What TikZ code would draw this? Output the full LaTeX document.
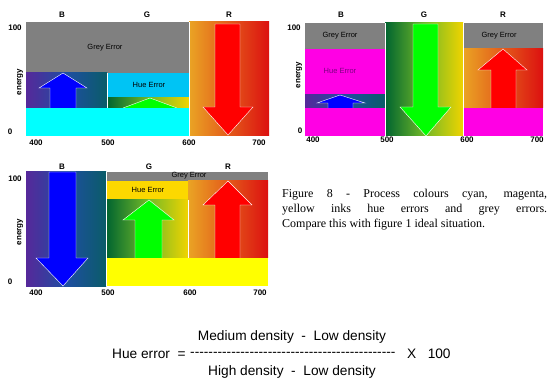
\documentclass[tikz,border=0pt]{standalone}
\usepackage{fontspec}
\setmainfont{Liberation Serif}
\newfontfamily\arial{Liberation Sans}[Ligatures=TeXOff]
\definecolor{greyerr}{HTML}{808080}
\definecolor{cyanerr}{HTML}{00C4F4}
\definecolor{cyanink}{HTML}{00FFFF}
\definecolor{magerr}{HTML}{FF00E4}
\definecolor{golderr}{HTML}{FCD800}
\definecolor{yelink}{HTML}{FFFF00}
\definecolor{bviolet}{HTML}{56289A}
\definecolor{bblue}{HTML}{1E4EA2}
\definecolor{bteal}{HTML}{0A5C68}
\definecolor{gdark}{HTML}{006430}
\definecolor{gmid}{HTML}{70B828}
\definecolor{gyel}{HTML}{F0D400}
\definecolor{rorange}{HTML}{EAA424}
\definecolor{rred}{HTML}{DC1010}
\definecolor{huetext}{HTML}{7A0080}
\definecolor{arrblue}{HTML}{0000FF}
\definecolor{arrgreen}{HTML}{00FF00}
\definecolor{arrred}{HTML}{FF0000}
\tikzset{
  lbl/.style={font=\arial\bfseries\fontsize{8}{9}\selectfont, inner sep=0pt},
  err/.style={font=\arial\fontsize{7.5}{9}\selectfont, inner sep=0pt},
  eq/.style={font=\arial\fontsize{13.7}{16}\selectfont, inner sep=0pt},
  arr/.style={draw=white, line width=0.4pt},
  sep/.style={white, line width=0.8pt},
  bshade/.style={left color=bviolet, right color=bteal, middle color=bblue},
  gshade/.style={left color=gdark, right color=gyel, middle color=gmid},
  rshade/.style={left color=rorange, right color=rred}
}
\begin{document}
\begin{tikzpicture}[x=1pt,y=-1pt]
\useasboundingbox (0,0) rectangle (557,390);
\fill[white] (0,0) rectangle (557,390);
% top left: cyan ink
\shade[rshade] (189,22) rectangle (269,136);
\fill[greyerr] (26,22) rectangle (189,73);
\shade[bshade] (26,73) rectangle (107,108);
\fill[cyanerr] (107,73) rectangle (189,98);
\shade[gshade] (107,98) rectangle (189,108);
\fill[arrblue,arr] (50,108) -- (50,88) -- (39,88) -- (63,73) -- (87,88) -- (76,88) -- (76,108);
\fill[arrgreen,arr] (123,108) -- (150,98) -- (177,108);
\fill[cyanink] (26,108) rectangle (189,136);
\fill[arrred,arr] (215,24) -- (240,24) -- (240,107) -- (253,107) -- (228,135) -- (203,107) -- (215,107) -- cycle;
\draw[sep] (189,22) -- (189,136) (107,73) -- (107,108);
\node[err] (grey1) at (105,48) {Grey Error};
\node[err] (hue1) at (149,85) {Hue Error};
\node[lbl] (b1) at (62,15) {B};
\node[lbl] (g1) at (147,15) {G};
\node[lbl] (r1) at (229,15) {R};
\node[lbl] (top1) at (15,28) {100};
\node[lbl] (bot1) at (10,132) {0};
\node[lbl,rotate=90] (en1) at (20,82) {energy};
\node[lbl] (x400a) at (36,143) {400};
\node[lbl] (x500a) at (108,143) {500};
\node[lbl] (x600a) at (189,143) {600};
\node[lbl] (x700a) at (259,143) {700};
% top right: magenta ink
\fill[greyerr] (305,23) rectangle (385,49);
\fill[magerr] (305,49) rectangle (385,95);
\shade[bshade] (305,95) rectangle (385,108);
\fill[arrblue,arr] (328,108) -- (328,103) -- (317,103) -- (340,95) -- (365,103) -- (353,103) -- (353,108);
\fill[magerr] (305,108) rectangle (385,136);
\shade[gshade] (385,23) rectangle (463,136);
\fill[arrgreen,arr] (413,24) -- (438,24) -- (438,107) -- (451,107) -- (426,136) -- (400,107) -- (413,107) -- cycle;
\fill[greyerr] (463,23) rectangle (543,49);
\shade[rshade] (463,49) rectangle (543,108);
\fill[arrred,arr] (491,108) -- (491,70) -- (478,70) -- (503,49) -- (527,70) -- (516,70) -- (516,108);
\fill[magerr] (463,108) rectangle (543,136);
\draw[sep] (385,23) -- (385,136) (463,23) -- (463,136);
\node[err] (grey2a) at (340,36) {Grey Error};
\node[err,text=huetext] (hue2) at (340,71) {Hue Error};
\node[err] (grey2b) at (499,36) {Grey Error};
\node[lbl] (b2) at (341,15) {B};
\node[lbl] (g2) at (424,15) {G};
\node[lbl] (r2) at (503,15) {R};
\node[lbl] (top2) at (294,28) {100};
\node[lbl] (bot2) at (300,131) {0};
\node[lbl,rotate=90] (en2) at (299,75) {energy};
\node[lbl] (x400b) at (313,140) {400};
\node[lbl] (x500b) at (387,140) {500};
\node[lbl] (x600b) at (467,140) {600};
\node[lbl] (x700b) at (537,140) {700};
% bottom left: yellow ink
\shade[bshade] (26,172) rectangle (106,286);
\fill[arrblue,arr] (49,172) -- (76,172) -- (76,258) -- (88,258) -- (63,286) -- (36,258) -- (49,258) -- cycle;
\fill[greyerr] (106,172) rectangle (268,181);
\fill[golderr] (106,181) rectangle (188,200);
\shade[gshade] (106,200) rectangle (188,258);
\shade[rshade] (188,181) rectangle (268,258);
\fill[arrgreen,arr] (135,258) -- (135,220) -- (123,220) -- (149,200) -- (174,220) -- (162,220) -- (162,258);
\fill[arrred,arr] (215,258) -- (215,205) -- (203,205) -- (228,181) -- (252,205) -- (240,205) -- (240,258);
\fill[yelink] (106,258) rectangle (268,286);
\draw[sep] (106,172) -- (106,286) (188,200) -- (188,258);
\node[err] (grey3) at (189,176) {Grey Error};
\node[err] (hue3) at (148,190) {Hue Error};
\node[lbl] (b3) at (62,167) {B};
\node[lbl] (g3) at (149,167) {G};
\node[lbl] (r3) at (228,167) {R};
\node[lbl] (top3) at (15,179) {100};
\node[lbl] (bot3) at (10,282) {0};
\node[lbl,rotate=90] (en3) at (20,232) {energy};
\node[lbl] (x400c) at (36,293) {400};
\node[lbl] (x500c) at (108,293) {500};
\node[lbl] (x600c) at (190,293) {600};
\node[lbl] (x700c) at (260,293) {700};
% caption
\node[anchor=north west, inner sep=0pt, text width=265pt, align=justify,
  font=\fontsize{12}{15}\selectfont] (caption) at (282,189)
  {Figure 8 - Process colours cyan, magenta,\linebreak yellow inks hue errors and grey errors.\linebreak Compare this with figure 1 ideal situation.};
% formula
\node[eq] (num) at (292,337) {Medium density~~-~~Low density};
\node[eq] (den) at (292,372) {High density~~-~~Low density};
\node[eq, anchor=west] (hue) at (112,354) {Hue error~~=};
\node[eq, anchor=west] (bar) at (190,354) {---------------------------------------------};
\node[eq, anchor=west] (times) at (407,354) {X~~~100};
\end{tikzpicture}
\end{document}
